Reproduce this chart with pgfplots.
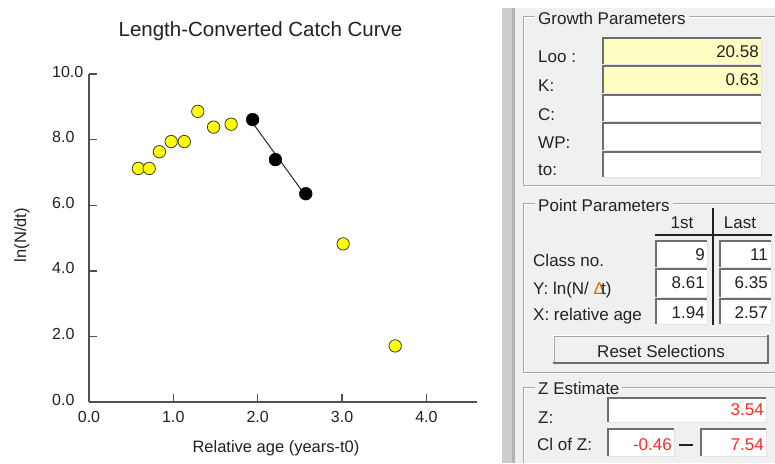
\documentclass[border=0pt]{standalone}
\usepackage{fontspec}
\setmainfont{Liberation Sans}
\usepackage{pgfplots}
\pgfplotsset{compat=1.18}
\definecolor{axisgray}{HTML}{505050}
\definecolor{panelbg}{HTML}{F0F0F0}
\definecolor{boxyellow}{HTML}{FFFFC4}
\definecolor{valred}{HTML}{FF2A2A}
\definecolor{etchdark}{HTML}{A8A8A8}
\definecolor{sunkdark}{HTML}{6E6E6E}
\definecolor{sunklight}{HTML}{E3E3E3}
\definecolor{splitter}{HTML}{CDCDCD}
\definecolor{splitdark}{HTML}{B4B4B4}
\definecolor{txt}{HTML}{222222}
\definecolor{markyellow}{HTML}{FFFF00}
\definecolor{markedge}{HTML}{3A3A3A}
\newcommand{\panelfont}{\fontsize{17}{20}\selectfont}
% etched group frame: top, bottom
\newcommand{\groupframe}[2]{%
  \draw[white, line width=1pt] (775,#1+1) -- (524.5,#1+1) -- (524.5,#2+1) -- (775,#2+1);
  \draw[etchdark, line width=1pt] (775,#1) -- (523.5,#1) -- (523.5,#2) -- (775,#2);
}
% sunken edit box: x1 y1 x2 y2 fill
\newcommand{\ebox}[5]{%
  \fill[#5] (#1,#2) rectangle (#3,#4);
  \draw[sunklight, line width=1pt] (#3-0.5,#2+1) -- (#3-0.5,#4-0.5) -- (#1+1,#4-0.5);
  \draw[sunkdark, line width=2pt] (#1+1,#4-1) -- (#1+1,#2+1) -- (#3-1,#2+1);
}
\begin{document}
\begin{tikzpicture}
\useasboundingbox (0pt,0pt) rectangle (775pt,-463pt);
\begin{scope}[x=1pt,y=-1pt]
  \fill[white] (0,0) rectangle (775,463);
  \fill[panelbg] (515,8) rectangle (775,463);
  \fill[splitter] (502,8) rectangle (515,463);
  \fill[splitdark] (512,8) rectangle (515,463);
  % ---------------- chart texts
  \node[anchor=base, inner sep=0pt, text=txt, font=\fontsize{20.5}{24}\selectfont] at (260.5,36) {Length-Converted Catch Curve};
  \node[anchor=base, inner sep=0pt, text=txt, font=\fontsize{16.5}{20}\selectfont] at (276,452) {Relative age (years-t0)};
  \node[anchor=base, rotate=90, inner sep=0pt, text=txt, font=\fontsize{16.5}{20}\selectfont] at (26,235) {ln(N/dt)};
  % ---------------- Growth Parameters
  \groupframe{16}{185}
  \node[anchor=base west, fill=panelbg, inner xsep=3pt, inner ysep=1pt, text=txt, font=\panelfont] at (535,24) {Growth Parameters};
  \ebox{602}{37}{762}{65}{boxyellow}
  \ebox{602}{65}{762}{94}{boxyellow}
  \ebox{602}{94}{762}{122}{white}
  \ebox{602}{122}{762}{151}{white}
  \ebox{602}{151}{762}{178}{white}
  \begin{scope}[every node/.style={anchor=base west, inner sep=0pt, text=txt, font=\panelfont}]
    \node at (538,62) {Loo :};
    \node at (538,91) {K:};
    \node at (538,120) {C:};
    \node at (538,148) {WP:};
    \node at (538,175) {to:};
  \end{scope}
  \begin{scope}[every node/.style={anchor=base east, inner sep=0pt, text=txt, font=\panelfont}]
    \node at (759,57) {20.58};
    \node at (759,85) {0.63};
  \end{scope}
  % ---------------- Point Parameters
  \groupframe{203}{372}
  \node[anchor=base west, fill=panelbg, inner xsep=3pt, inner ysep=1pt, text=txt, font=\panelfont] at (535,211) {Point Parameters};
  \node[anchor=base, inner sep=0pt, text=txt, font=\panelfont] at (682,228) {1st};
  \node[anchor=base, inner sep=0pt, text=txt, font=\panelfont] at (740,228) {Last};
  \ebox{655}{240}{708}{268}{white}
  \ebox{655}{268}{708}{298}{white}
  \ebox{655}{298}{708}{325}{white}
  \ebox{719}{240}{772}{268}{white}
  \ebox{719}{268}{772}{298}{white}
  \ebox{719}{298}{772}{325}{white}
  \draw[txt, line width=1.6pt] (655,235) -- (772,235);
  \draw[txt, line width=1.6pt] (713,208) -- (713,325);
  \begin{scope}[every node/.style={anchor=base west, inner sep=0pt, text=txt, font=\panelfont}]
    \node at (533,266) {Class no.};
    \node at (533,294) {Y: ln(N/ {\color{orange!85!black}Δ}\kern-4pt t)};
    \node at (533,320) {X: relative age};
  \end{scope}
  \begin{scope}[every node/.style={anchor=base east, inner sep=0pt, text=txt, font=\panelfont}]
    \node at (705,260) {9};
    \node at (768,260) {11};
    \node at (705,288) {8.61};
    \node at (768,288) {6.35};
    \node at (705,318) {1.94};
    \node at (768,318) {2.57};
  \end{scope}
  % button
  \fill[panelbg] (553,335) rectangle (769,364);
  \draw[white, line width=1pt] (553.5,363) -- (553.5,335.5) -- (768,335.5);
  \draw[etchdark, line width=1pt] (554.5,363) -- (554.5,336.5) -- (767,336.5);
  \draw[sunkdark, line width=2pt] (553,363) -- (768,363) -- (768,335);
  \node[anchor=base, inner sep=0pt, text=txt, font=\panelfont] at (661,357) {Reset Selections};
  % ---------------- Z Estimate
  \draw[white, line width=1pt] (775,388) -- (524.5,388) -- (524.5,463);
  \draw[etchdark, line width=1pt] (775,387) -- (523.5,387) -- (523.5,463);
  \node[anchor=base west, fill=panelbg, inner xsep=3pt, inner ysep=1pt, text=txt, font=\panelfont] at (535,394) {Z Estimate};
  \ebox{607}{397}{767}{423}{white}
  \ebox{607}{428}{675}{457}{white}
  \ebox{700}{428}{767}{457}{white}
  \node[anchor=base west, inner sep=0pt, text=txt, font=\panelfont] at (538,423) {Z:};
  \node[anchor=base west, inner sep=0pt, text=txt, font=\panelfont] at (537,450) {Cl of Z:};
  \draw[txt, line width=1.3pt] (679,445) -- (693,445);
  \begin{scope}[every node/.style={anchor=base east, inner sep=0pt, text=valred, font=\panelfont}]
    \node at (764,415) {3.54};
    \node at (672,450) {-0.46};
    \node at (764,450) {7.54};
  \end{scope}
\end{scope}
\begin{axis}[
  at={(89pt,-402pt)}, anchor=south west, scale only axis,
  width=388pt, height=328pt,
  xmin=0, xmax=4.6, ymin=0, ymax=10,
  axis lines=left,
  axis line style={-, draw=axisgray, line width=1.6pt},
  xtick={0,1,2,3,4}, ytick={0,2,4,6,8,10},
  tick align=inside, major tick length=8pt,
  tick style={draw=axisgray, line width=1.4pt},
  ticklabel style={font=\fontsize{16}{19}\selectfont, text=txt},
  xticklabel style={anchor=base, inner sep=0pt, yshift=-20pt},
  yticklabel style={anchor=base west, inner sep=0pt, xshift=-37pt, yshift=-3pt},
  /pgf/number format/fixed, /pgf/number format/fixed zerofill,
  /pgf/number format/precision=1, /pgf/number format/assume math mode=true,
  clip=false,
]
\addplot[draw=black!85, line width=1pt] coordinates {(1.94,8.51) (2.57,6.28)};
\addplot[only marks, mark=*, mark size=6.2pt,
  mark options={fill=markyellow, draw=markedge, line width=0.8pt}] coordinates {
  (0.586,7.12) (0.714,7.12) (0.835,7.63) (0.974,7.94) (1.130,7.94)
  (1.290,8.86) (1.477,8.38) (1.685,8.47) (3.013,4.82) (3.630,1.71)};
\addplot[only marks, mark=*, mark size=6.4pt,
  mark options={fill=black, draw=black}] coordinates {
  (1.94,8.61) (2.21,7.39) (2.57,6.35)};
\end{axis}
\end{tikzpicture}
\end{document}
